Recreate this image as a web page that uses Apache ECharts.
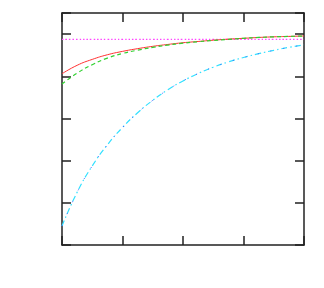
<!DOCTYPE html>
<html><head><meta charset="utf-8">
<script src="https://cdn.jsdelivr.net/npm/echarts@6/dist/echarts.min.js"></script>
<style>html,body{margin:0;padding:0;background:#fff}#c{width:324px;height:288px}</style>
</head><body><div id="c"></div>
<script>
var xs = [0,0.25,0.5,0.75,1,1.25,1.5,1.75,2,2.25,2.5,2.75,3,3.25,3.5,3.75,4];
var redVals = [0.812,0.852,0.880,0.902,0.918,0.931,0.942,0.951,0.959,0.965,0.971,0.976,0.980,0.984,0.987,0.989,0.991];
var greenVals = [0.763,0.815,0.855,0.886,0.908,0.924,0.937,0.948,0.957,0.964,0.970,0.975,0.980,0.984,0.987,0.989,0.991];
var cyanVals = [0.090,0.250,0.375,0.475,0.557,0.627,0.686,0.736,0.778,0.813,0.843,0.868,0.889,0.907,0.923,0.937,0.949];
var magentaVals = [0.975,0.975,0.975,0.975,0.975,0.975,0.975,0.975,0.975,0.975,0.975,0.975,0.975,0.975,0.975,0.975,0.975];

function pairs(v){ return xs.map(function(x,i){return [x,v[i]];}); }
var axisCommon = {
  axisLine:{show:true,onZero:false,lineStyle:{color:'#222',width:1.5}},
  axisTick:{show:true,inside:true,length:9,lineStyle:{color:'#222',width:1.5}},
  axisLabel:{show:false}, splitLine:{show:false}
};
function ax(extra){ return Object.assign({}, JSON.parse(JSON.stringify(axisCommon)), extra); }
var chart = echarts.init(document.getElementById('c'), null, {renderer:'canvas'});
chart.setOption({
  animation:false,
  grid:{left:62,right:20,top:13,bottom:43},
  xAxis:[ax({type:'value',min:0,max:4,interval:1,position:'bottom'}),
         ax({type:'value',min:0,max:4,interval:1,position:'top'})],
  yAxis:[ax({type:'value',min:0,max:1.1,interval:0.2,position:'left'}),
         ax({type:'value',min:0,max:1.1,interval:0.2,position:'right'})],
  series:[
    {type:'line',data:pairs(magentaVals),showSymbol:false,smooth:true,lineStyle:{color:'#ff44ff',width:1.2,type:[1.5,2]}},
    {type:'line',data:pairs(cyanVals),showSymbol:false,smooth:true,lineStyle:{color:'#33e0ff',width:1.2,type:[6,3,1.5,3]}},
    {type:'line',data:pairs(cyanVals),showSymbol:false,smooth:true,lineStyle:{color:'#4060ff',width:1,type:[1,12]}},
    {type:'line',data:pairs(redVals),showSymbol:false,smooth:true,lineStyle:{color:'#ff3030',width:1,type:'solid'}},
    {type:'line',data:pairs(greenVals),showSymbol:false,smooth:true,lineStyle:{color:'#30d030',width:1.2,type:[4,3]}}
  ]
});
</script></body></html>
